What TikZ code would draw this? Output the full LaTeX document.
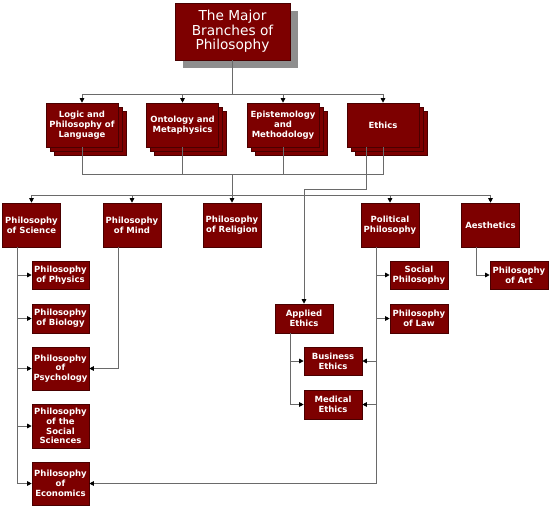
\documentclass[tikz,border=0pt]{standalone}
\usepackage{fontspec}
\setmainfont{DejaVu Sans}
\usetikzlibrary{arrows.meta}
\definecolor{boxred}{HTML}{7D0000}
\definecolor{boxedge}{HTML}{4A0000}
\definecolor{linegray}{HTML}{6A6A6A}
\definecolor{shadowgray}{HTML}{8E8E8E}
\newcommand\stackbox[4]{%
  \node[big,layer] (#1c) at (#2+8,#3+8) {};
  \node[big,layer] (#1b) at (#2+4,#3+4) {};
  \node[big] (#1) at (#2,#3) {#4};}
\begin{document}
\begin{tikzpicture}[x=1pt,y=-1pt,
  box/.style={draw=boxedge, fill=boxred, line width=0.6pt, text=white, align=center,
    inner sep=0pt, font=\bfseries\fontsize{8.5}{9.8}\selectfont},
  layer/.style={draw=boxedge, fill=boxred, line width=0.6pt, inner sep=0pt},
  big/.style={box, minimum width=72pt, minimum height=44pt},
  mid/.style={box, minimum width=58pt, minimum height=44pt},
  sub/.style={box, minimum width=57pt},
  conn/.style={draw=linegray, line width=0.9pt},
  arr/.style={conn, -{Triangle[length=4.5pt,width=4.5pt,color=black]}}
]
\useasboundingbox (0,0) rectangle (550,507);
% title
\node[fill=shadowgray, minimum width=115pt, minimum height=57pt, inner sep=0pt] (tshadow) at (240.5,39.5) {};
\node[box, font=\fontsize{13.7}{14.7}\selectfont, minimum width=115pt, minimum height=57pt] (title) at (232.5,31.5) {The Major\\Branches of\\Philosophy};
% row 2
\stackbox{logic}{82}{125}{Logic and\\Philosophy of\\Language}
\stackbox{onto}{182.5}{125}{Ontology and\\Metaphysics}
\stackbox{epis}{283}{125}{Epistemology\\and\\Methodology}
\stackbox{ethics}{383}{125}{Ethics}
% row 3
\node[mid] (sci) at (31.5,225) {Philosophy\\of Science};
\node[mid] (mind) at (132,225) {Philosophy\\of Mind};
\node[mid] (rel) at (232,225) {Philosophy\\of Religion};
\node[mid] (pol) at (390,225) {Political\\Philosophy};
\node[mid] (aes) at (490.5,225) {Aesthetics};
% science column
\node[sub, minimum height=28pt] (phys) at (60.5,275) {Philosophy\\of Physics};
\node[sub, minimum height=29pt] (bio) at (60.5,318.5) {Philosophy\\of Biology};
\node[sub, minimum height=43pt] (psy) at (60.5,368.5) {Philosophy\\of\\Psychology};
\node[sub, minimum height=44pt] (soc) at (60.5,426) {Philosophy\\of the\\Social\\Sciences};
\node[sub, minimum height=43pt] (eco) at (60.5,483.5) {Philosophy\\of\\Economics};
% political column
\node[sub, minimum width=58pt, minimum height=28pt] (socp) at (419,275) {Social\\Philosophy};
\node[sub, minimum width=58pt, minimum height=29pt] (law) at (419,318.5) {Philosophy\\of Law};
% ethics
\node[sub, minimum width=58pt, minimum height=29pt] (applied) at (304,318.5) {Applied\\Ethics};
\node[sub, minimum width=58pt, minimum height=28pt] (bus) at (333,361) {Business\\Ethics};
\node[sub, minimum width=58pt, minimum height=29pt] (med) at (333,404.5) {Medical\\Ethics};
% aesthetics
\node[sub, minimum width=58pt, minimum height=28pt] (art) at (519,275) {Philosophy\\of Art};
% connectors
\coordinate (j1) at (232.5,94);
\draw[conn] (title.south) -- (j1);
\foreach \n in {logic,onto,epis,ethics} \draw[arr] (j1) -| (\n.north);
\coordinate (j2) at (232.5,174);
\foreach \n in {logic,onto,epis,ethics} \draw[conn] (\n.south) |- (j2);
\coordinate (j3) at (232.5,195);
\draw[conn] (j2) -- (j3);
\foreach \n in {sci,mind,rel,pol,aes} \draw[arr] (j3) -| (\n.north);
\coordinate (e1) at (366,147);
\coordinate (e2) at (366,189);
\draw[arr] (e1) -- (e2) -| (applied.north);
\coordinate (s0) at (17,247);
\coordinate (s1) at (17,483.5);
\draw[conn] (s0) -- (s1);
\foreach \n in {phys,bio,psy,soc,eco} \draw[arr] (s0 |- \n.west) -- (\n.west);
\coordinate (m0) at (118,247);
\draw[arr] (m0) |- (psy.east);
\coordinate (p0) at (376,247);
\coordinate (p1) at (376,483.5);
\draw[conn] (p0) -- (p1);
\foreach \n in {socp,law} \draw[arr] (p0 |- \n.west) -- (\n.west);
\foreach \n in {bus,med} \draw[arr] (p0 |- \n.east) -- (\n.east);
\draw[arr] (p1) -- (eco.east);
\coordinate (a0) at (290,333);
\draw[arr] (a0) |- (bus.west);
\draw[arr] (a0) |- (med.west);
\coordinate (ae0) at (476,247);
\draw[arr] (ae0) |- (art.west);
\end{tikzpicture}
\end{document}
